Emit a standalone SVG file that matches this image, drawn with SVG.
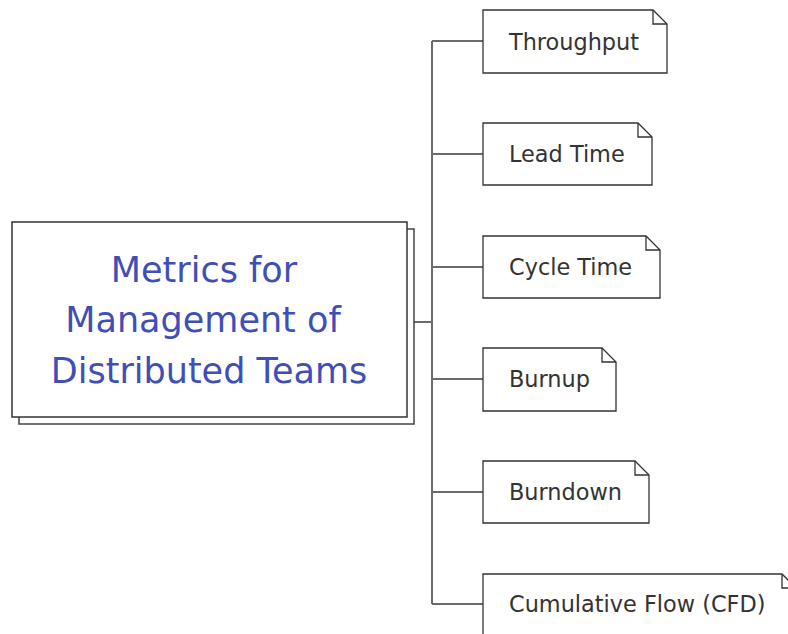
<svg xmlns="http://www.w3.org/2000/svg" width="788" height="634" viewBox="0 0 788 634">
  <style>
    .root-box { fill: #ffffff; stroke: #333333; stroke-width: 1.5; }
    .root-shadow { fill: #ffffff; stroke: #444444; stroke-width: 1.5; }
    .root-text { font-family: "DejaVu Sans", "Noto Sans", sans-serif; font-size: 35px; fill: #3f4fb5; text-anchor: middle; }
    .note { fill: #ffffff; stroke: #333333; stroke-width: 1.3; }
    .fold { fill: none; stroke: #333333; stroke-width: 1.3; }
    .label { font-family: "DejaVu Sans", "Noto Sans", sans-serif; font-size: 22.4px; fill: #333333; }
    .link { fill: none; stroke: #6b6b6b; stroke-width: 2; }
  </style>
  <rect width="788" height="634" fill="#ffffff"/>

  <g id="connectors">
    <path class="link" d="M407 322 H432"/>
    <path class="link" d="M432 41 V604"/>
    <path class="link" d="M432 41 H483"/>
    <path class="link" d="M432 154 H483"/>
    <path class="link" d="M432 267 H483"/>
    <path class="link" d="M432 379 H483"/>
    <path class="link" d="M432 492 H483"/>
    <path class="link" d="M432 604 H483"/>
  </g>

  <g id="root">
    <rect class="root-shadow" x="19" y="229" width="395" height="195"/>
    <rect class="root-box" x="12" y="222" width="395" height="195"/>
    <text class="root-text" x="204" y="282">Metrics for</text>
    <text class="root-text" x="203" y="332">Management of</text>
    <text class="root-text" x="209" y="383">Distributed Teams</text>
  </g>

  <g id="throughput">
    <path class="note" d="M483 10 H653 L667 24 V73 H483 Z"/>
    <path class="fold" d="M653 10 V24 H667"/>
    <text class="label" x="509" y="50">Throughput</text>
  </g>

  <g id="lead-time">
    <path class="note" d="M483 123 H638 L652 137 V185 H483 Z"/>
    <path class="fold" d="M638 123 V137 H652"/>
    <text class="label" x="509" y="162">Lead Time</text>
  </g>

  <g id="cycle-time">
    <path class="note" d="M483 236 H646 L660 250 V298 H483 Z"/>
    <path class="fold" d="M646 236 V250 H660"/>
    <text class="label" x="509" y="275">Cycle Time</text>
  </g>

  <g id="burnup">
    <path class="note" d="M483 348 H602 L616 362 V411 H483 Z"/>
    <path class="fold" d="M602 348 V362 H616"/>
    <text class="label" x="509" y="387">Burnup</text>
  </g>

  <g id="burndown">
    <path class="note" d="M483 461 H635 L649 475 V523 H483 Z"/>
    <path class="fold" d="M635 461 V475 H649"/>
    <text class="label" x="509" y="500">Burndown</text>
  </g>

  <g id="cumulative-flow">
    <path class="note" d="M483 574 H782 L796 588 V636 H483 Z"/>
    <path class="fold" d="M782 574 V588 H796"/>
    <text class="label" x="509" y="612">Cumulative Flow (CFD)</text>
  </g>
</svg>
